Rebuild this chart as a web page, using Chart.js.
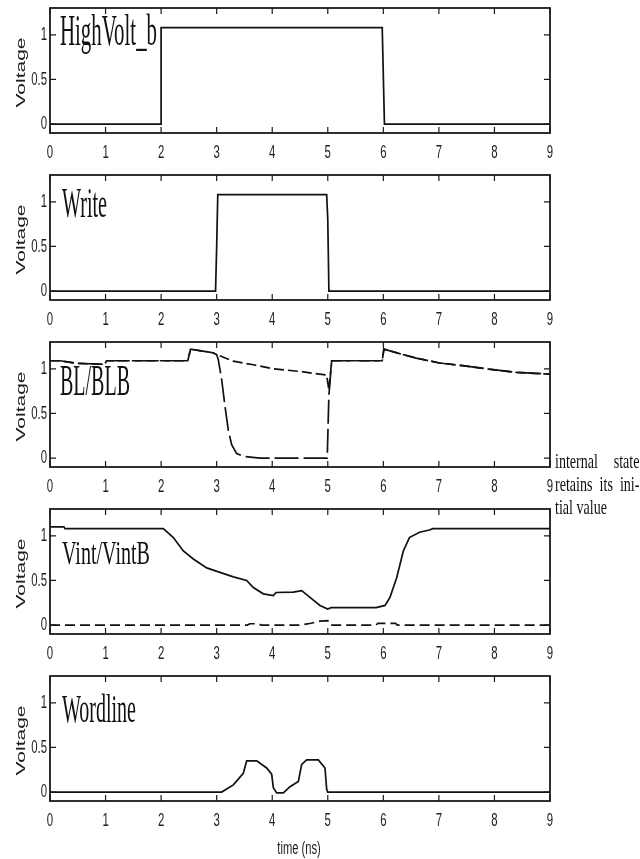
<!DOCTYPE html>
<html>
<head>
<meta charset="utf-8">
<script src="https://cdn.jsdelivr.net/npm/chart.js@4"></script>
<style>
  html, body { margin: 0; padding: 0; background: #fff; }
  #wrap { position: relative; width: 640px; height: 859px; overflow: hidden; }
  #wrap canvas { position: absolute; left: 0; display: block; }
  .note { position: absolute; left: 555px; font-family: "Liberation Serif", serif; font-size: 22px; color: #111;
          transform: scaleX(0.64); transform-origin: left center; width: 132px; white-space: nowrap; line-height: 24px; }
  .note.just { display: flex; justify-content: space-between; }
</style>
</head>
<body>
<div id="wrap">
  <canvas id="p1" width="640" height="167" style="top:0"></canvas>
  <canvas id="p2" width="640" height="167" style="top:167px"></canvas>
  <canvas id="p3" width="640" height="167" style="top:334px"></canvas>
  <canvas id="p4" width="640" height="167" style="top:501px"></canvas>
  <canvas id="p5" width="640" height="191" style="top:668px"></canvas>
  <div class="note just" style="top:449px"><span>internal</span><span>state</span></div>
  <div class="note just" style="top:472px"><span>retains</span><span>its</span><span>ini-</span></div>
  <div class="note" style="top:495px">tial value</div>
</div>
<script>
// axis ticks
const xTicks = [0, 1, 2, 3, 4, 5, 6, 7, 8, 9];
const yTicks = [0, 0.5, 1];
const yTickLabels = ['0', '0.5', '1'];

// HighVolt_b
const highVoltT = [0, 2, 2, 5.98, 6.02, 9];
const highVoltV = [0, 0, 1.08, 1.08, 0, 0];

// Write
const writeT = [0, 2.98, 3.0, 3.02, 4.98, 5.0, 5.02, 9];
const writeV = [0, 0, 0.5, 1.08, 1.08, 0.8, 0, 0];

// BL / BLB
const blT = [0, 0.18, 0.5, 0.98, 1.02, 2.48, 2.53, 2.93, 3.0, 3.03, 3.09, 3.15, 3.21, 3.27, 3.36, 3.48, 3.78,
             4.99, 5.02, 5.07, 5.98, 6.01, 6.29, 6.59, 7.01, 7.43, 7.97, 8.39, 9];
const blV = [1.09, 1.09, 1.06, 1.05, 1.09, 1.09, 1.22, 1.18, 1.16, 1.10, 0.88, 0.58, 0.31, 0.15, 0.05, 0.02, 0,
             0, 0.7, 1.09, 1.09, 1.22, 1.17, 1.12, 1.065, 1.035, 0.99, 0.96, 0.94];
const blbT = [0, 0.18, 0.5, 0.98, 1.02, 2.48, 2.53, 2.93, 3.0, 3.3, 3.66, 4.02, 4.5, 4.98, 5.02, 5.07,
              5.98, 6.01, 6.29, 6.59, 7.01, 7.43, 7.97, 8.39, 9];
const blbV = [1.09, 1.09, 1.06, 1.05, 1.09, 1.09, 1.22, 1.18, 1.16, 1.085, 1.045, 1.0, 0.97, 0.93, 0.76, 1.09,
              1.09, 1.22, 1.17, 1.12, 1.065, 1.035, 0.99, 0.96, 0.94];

// Vint / VintB
const vintT = [0, 0.25, 0.27, 2.04, 2.22, 2.40, 2.58, 2.82, 3.06, 3.30, 3.54, 3.66, 3.84, 4.02, 4.07, 4.38, 4.53,
               4.68, 4.86, 5.0, 5.06, 5.87, 6.03, 6.12, 6.24, 6.36, 6.47, 6.65, 6.83, 6.89, 9];
const vintV = [1.1, 1.1, 1.08, 1.08, 0.98, 0.83, 0.74, 0.64, 0.59, 0.54, 0.50, 0.42, 0.35, 0.33, 0.365, 0.37, 0.385,
               0.31, 0.22, 0.18, 0.195, 0.195, 0.22, 0.31, 0.53, 0.83, 0.98, 1.04, 1.065, 1.08, 1.08];
const vintbT = [0, 3.55, 3.6, 3.75, 3.8, 4.5, 4.7, 4.86, 5.0, 5.04, 5.87, 5.9, 6.22, 6.25, 9];
const vintbV = [0, 0, 0.015, 0.015, 0, 0, 0.02, 0.045, 0.05, 0, 0, 0.02, 0.02, 0, 0];

// Wordline
const wordT = [0, 3.09, 3.30, 3.48, 3.54, 3.72, 3.90, 3.99, 4.02, 4.08, 4.20, 4.32, 4.47, 4.53, 4.62, 4.83,
               4.95, 4.98, 5.0, 9];
const wordV = [0, 0, 0.08, 0.21, 0.35, 0.35, 0.27, 0.20, 0.05, -0.01, -0.01, 0.06, 0.12, 0.31, 0.36, 0.36,
               0.27, 0.03, 0, 0];

const zip = (ts, vs) => ts.map((t, i) => ({ x: t, y: vs[i] }));

function squeezed(ctx, text, px, py, sx, align) {
  ctx.save();
  ctx.translate(px, py);
  ctx.scale(sx, 1);
  ctx.textAlign = align;
  ctx.fillText(text, 0, 0);
  ctx.restore();
}

// matlab-like frame: box, inward ticks both sides, squeezed labels, title
const frame = {
  id: 'frame',
  afterDatasetsDraw(chart, args, o) {
    const { ctx, chartArea: a, scales: { x, y } } = chart;
    ctx.save();
    ctx.strokeStyle = '#1a1a1a';
    ctx.lineWidth = 1.8;
    ctx.strokeRect(a.left, a.top, a.right - a.left, a.bottom - a.top);

    ctx.lineWidth = 1.2;
    ctx.beginPath();
    xTicks.forEach(t => {
      const px = x.getPixelForValue(t);
      ctx.moveTo(px, a.bottom); ctx.lineTo(px, a.bottom - 6);
      ctx.moveTo(px, a.top); ctx.lineTo(px, a.top + 6);
    });
    yTicks.forEach(v => {
      const py = y.getPixelForValue(v);
      ctx.moveTo(a.left, py); ctx.lineTo(a.left + 6, py);
      ctx.moveTo(a.right, py); ctx.lineTo(a.right - 6, py);
    });
    ctx.stroke();

    ctx.fillStyle = '#1e1e1e';
    ctx.font = '19px "Liberation Sans", Arial, sans-serif';
    ctx.textBaseline = 'middle';
    xTicks.forEach(t => squeezed(ctx, String(t), x.getPixelForValue(t), a.bottom + 20, 0.6, 'center'));
    yTicks.forEach((v, i) => squeezed(ctx, yTickLabels[i], a.left - 3, y.getPixelForValue(v), 0.6, 'right'));

    // y title, rotated and stretched
    ctx.save();
    ctx.font = '12px "Liberation Sans", Arial, sans-serif';
    ctx.translate(22, (a.top + a.bottom) / 2 + 2);
    ctx.rotate(-Math.PI / 2);
    ctx.scale(1.75, 1);
    ctx.textAlign = 'center';
    ctx.fillText('Voltage', 0, 0);
    ctx.restore();

    // panel name
    const size = o.cap / 0.662;
    ctx.font = size.toFixed(1) + 'px "Liberation Serif", "Times New Roman", serif';
    ctx.textBaseline = 'alphabetic';
    ctx.fillStyle = '#111';
    const w = ctx.measureText(o.name).width;
    squeezed(ctx, o.name, o.left, a.top + o.dy, o.width / w, 'left');

    if (o.xTitle) {
      ctx.font = '18px "Liberation Sans", Arial, sans-serif';
      ctx.textBaseline = 'middle';
      ctx.fillStyle = '#1e1e1e';
      squeezed(ctx, o.xTitle, (a.left + a.right) / 2 - 1, a.bottom + 48, 0.62, 'center');
    }
    ctx.restore();
  }
};

function series(ts, vs, dash) {
  return {
    data: zip(ts, vs),
    borderColor: '#111',
    borderWidth: 1.7,
    borderDash: dash || [],
    pointRadius: 0,
    tension: 0,
    fill: false,
  };
}

function panel(id, datasets, name, bottomPad) {
  return new Chart(document.getElementById(id).getContext('2d'), {
    type: 'line',
    data: { datasets },
    options: {
      responsive: false,
      animation: false,
      layout: { padding: { left: 50, right: 90, top: 8, bottom: bottomPad } },
      scales: {
        x: { type: 'linear', min: 0, max: 9, display: false },
        y: { type: 'linear', min: -0.1, max: 1.3, display: false },
      },
      plugins: {
        legend: { display: false },
        tooltip: { enabled: false },
        frame: name,
      },
    },
    plugins: [frame],
  });
}

panel('p1', [series(highVoltT, highVoltV)],
  { name: 'HighVolt_b', left: 60, dy: 37, cap: 30, width: 97 }, 34);
panel('p2', [series(writeT, writeV)],
  { name: 'Write', left: 62, dy: 42, cap: 28, width: 45 }, 34);
panel('p3', [series(blT, blV, [24, 5]), series(blbT, blbV, [10, 4])],
  { name: 'BL/BLB', left: 60, dy: 53, cap: 30, width: 70 }, 34);
panel('p4', [series(vintT, vintV), series(vintbT, vintbV, [10, 5])],
  { name: 'Vint/VintB', left: 62, dy: 55, cap: 23, width: 88 }, 34);
panel('p5', [series(wordT, wordV)],
  { name: 'Wordline', left: 62, dy: 46, cap: 26, width: 74, xTitle: 'time (ns)' }, 58);
</script>
</body>
</html>
